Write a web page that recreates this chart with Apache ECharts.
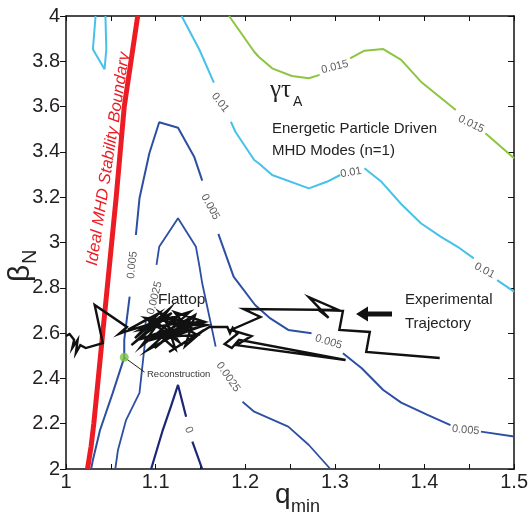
<!DOCTYPE html>
<html><head><meta charset="utf-8">
<script src="https://cdn.jsdelivr.net/npm/echarts@6/dist/echarts.min.js"></script>
<style>html,body{margin:0;padding:0;background:#fff}#c{width:531px;height:522px}</style>
</head><body><div id="c"></div>
<script>
// ---------- data ----------
const xMin = 1, xMax = 1.5, xStep = 0.1;
const yMin = 2, yMax = 4, yStep = 0.2;

// Ideal MHD stability boundary (q_min, beta_N)
const boundary = [[1.080,4.0],[1.065,3.6],[1.056,3.2],[1.051,3.0],[1.046,2.8],[1.041,2.6],[1.036,2.4],[1.031,2.2],[1.028,2.1],[1.024,2.0]];

// contour segments of gamma*tau_A (gaps = label positions)
const level0 = [
  [[1.095,2.0],[1.108,2.172],[1.117,2.275],[1.125,2.371],[1.134,2.231]],
  [[1.141,2.121],[1.152,2.0]]
];
const level0025 = [
  [[1.055,2.0],[1.058,2.084],[1.067,2.216],[1.082,2.336],[1.088,2.555],[1.089,2.658]],
  [[1.101,2.901],[1.104,2.981],[1.125,3.107],[1.145,2.981],[1.149,2.893],[1.152,2.820],[1.160,2.672],[1.167,2.540]],
  [[1.197,2.297],[1.210,2.253],[1.248,2.187],[1.271,2.106],[1.295,2.0]]
];
const level005 = [
  [[1.028,2.0],[1.030,2.040],[1.038,2.172],[1.052,2.334],[1.065,2.493],[1.065,2.570],[1.071,2.761]],
  [[1.078,3.033],[1.082,3.195],[1.093,3.394],[1.104,3.531],[1.125,3.507],[1.143,3.379],[1.152,3.273]],
  [[1.170,3.038],[1.187,2.849],[1.211,2.724],[1.228,2.665],[1.248,2.614],[1.274,2.599]],
  [[1.309,2.511],[1.330,2.445],[1.354,2.349],[1.374,2.293],[1.404,2.238],[1.429,2.194]],
  [[1.463,2.165],[1.500,2.143]]
];
const level01 = [
  [[1.033,4.0],[1.030,3.853],[1.043,3.765],[1.045,3.853],[1.044,4.0]],
  [[1.129,4.0],[1.149,3.850],[1.165,3.706]],
  [[1.184,3.533],[1.189,3.489],[1.210,3.364],[1.215,3.350],[1.230,3.298],[1.271,3.239],[1.291,3.268],[1.306,3.298]],
  [[1.333,3.328],[1.352,3.268],[1.374,3.170],[1.396,3.085],[1.418,3.026],[1.437,2.981],[1.455,2.930]],
  [[1.481,2.834],[1.500,2.783]]
];
const level015 = [
  [[1.182,4.0],[1.210,3.842],[1.215,3.820],[1.230,3.769],[1.252,3.735],[1.271,3.725],[1.283,3.740]],
  [[1.317,3.813],[1.333,3.847],[1.354,3.854],[1.374,3.806],[1.396,3.710],[1.435,3.585]],
  [[1.468,3.482],[1.500,3.372]]
];

// contour labels: [q_min, beta_N, text]
const contourLabels = [
  [1.172,3.618,'0.01'],[1.318,3.309,'0.01'],[1.467,2.876,'0.01'],
  [1.300,3.775,'0.015'],[1.452,3.523,'0.015'],
  [1.074,2.901,'0.005'],[1.161,3.157,'0.005'],[1.293,2.561,'0.005'],[1.446,2.172,'0.005'],
  [1.099,2.755,'0.0025'],[1.181,2.406,'0.0025'],
  [1.137,2.172,'0']
];
const contourLabelAngles = [-52,10,-28, 14,-26, 84,-61,-17,-5, 76,-55, -68];

// experimental trajectory
const trajectory = [
  [1.000,2.587],[1.004,2.596],[1.009,2.570],[1.007,2.534],[1.013,2.570],[1.011,2.512],[1.016,2.547],[1.022,2.534],
  [1.041,2.556],[1.032,2.724],[1.068,2.627],[1.059,2.596],
  [1.065,2.605],[1.102,2.649],[1.073,2.547],[1.118,2.689],[1.082,2.614],[1.132,2.649],[1.099,2.534],[1.141,2.667],
  [1.110,2.570],[1.152,2.631],[1.088,2.667],[1.126,2.561],[1.104,2.693],[1.146,2.592],[1.093,2.578],[1.135,2.623],
  [1.121,2.693],[1.155,2.649],[1.080,2.570],[1.113,2.614],
  [1.093,2.667],[1.069,2.614],[1.104,2.689],[1.077,2.578],[1.115,2.706],[1.084,2.543],[1.126,2.676],[1.093,2.640],
  [1.138,2.693],[1.091,2.525],[1.149,2.653],[1.104,2.592],[1.122,2.530],[1.111,2.667],[1.157,2.636],[1.095,2.570],
  [1.144,2.680],[1.133,2.543],[1.154,2.614],[1.115,2.517],[1.160,2.627],
  [1.180,2.627],[1.183,2.600],[1.186,2.623],[1.191,2.596],[1.177,2.552],[1.185,2.534],[1.193,2.570],[1.312,2.481],
  [1.190,2.547],[1.207,2.587],[1.184,2.614],[1.217,2.671],[1.198,2.706],[1.304,2.702],[1.271,2.759],[1.293,2.667],
  [1.282,2.702],[1.309,2.698],[1.305,2.614],[1.339,2.605],[1.335,2.517],[1.417,2.490]
];

// reconstruction point and its leader
const reconstruction = [[1.065,2.493]];
const reconstructionLeader = [[1.065,2.493],[1.0876,2.428]];

// ---------- styles ----------
const FONT = '"Liberation Sans", Arial, Helvetica, sans-serif';
const levelStyles = [
  {segs: level0,    color: '#1b2677', width: 2.2},
  {segs: level0025, color: '#2c4fa3', width: 1.8},
  {segs: level005,  color: '#2c4fa3', width: 2.0},
  {segs: level01,   color: '#45c1ea', width: 2.0},
  {segs: level015,  color: '#8cc63f', width: 2.0}
];

const series = [];
levelStyles.forEach(ls => {
  ls.segs.forEach(seg => {
    series.push({type:'line', data: seg, symbol:'none', silent:true, z:2,
      lineStyle:{color: ls.color, width: ls.width}});
  });
});
series.push({type:'line', data: boundary, symbol:'none', z:3, lineStyle:{color:'#ed1c24', width:5}});
series.push({type:'line', data: trajectory, symbol:'none', z:4, lineStyle:{color:'#111', width:2.4, join:'miter'}});
series.push({type:'line', data: reconstructionLeader, symbol:'none', z:4, lineStyle:{color:'#222', width:1}});
series.push({type:'scatter', data: reconstruction, symbolSize:9, z:5, itemStyle:{color:'#7cc242'}});
series.push({type:'scatter', symbolSize:0, z:5,
  data: contourLabels.map((d,i)=>({value:[d[0],d[1]], name:d[2], label:{rotate: contourLabelAngles[i]}})),
  label:{show:true, position:'inside', formatter: p => p.name, fontSize:11, color:'#333', fontFamily: FONT}
});

const axisLine = {show:true, onZero:false, lineStyle:{color:'#111', width:1.5}};
const fmt = v => String(Math.round(v*10)/10);

const option = {
  animation:false,
  backgroundColor:'#fff',
  grid:{left:66, top:16, width:451, height:453},
  xAxis:[
    {type:'value', min:xMin, max:xMax, interval:xStep, position:'bottom', axisLine,
     axisTick:{show:true, inside:true, length:5, lineStyle:{color:'#111', width:1}},
     minorTick:{show:true, splitNumber:2, length:5, lineStyle:{color:'#111', width:1}},
     splitLine:{show:false},
     axisLabel:{fontSize:20, color:'#231f20', margin:3, fontFamily:FONT, formatter: fmt}},
    {type:'value', min:xMin, max:xMax, interval:xStep, position:'top', axisLine,
     axisTick:{show:true, inside:true, length:5, lineStyle:{color:'#111', width:1}},
     minorTick:{show:true, splitNumber:2, length:5, lineStyle:{color:'#111', width:1}},
     splitLine:{show:false}, axisLabel:{show:false}}
  ],
  yAxis:[
    {type:'value', min:yMin, max:yMax, interval:yStep, position:'left', axisLine,
     axisTick:{show:true, inside:false, length:6, lineStyle:{color:'#111', width:1}},
     splitLine:{show:false},
     axisLabel:{fontSize:20, color:'#231f20', margin:6, fontFamily:FONT, formatter: fmt}},
    {type:'value', min:yMin, max:yMax, interval:yStep, position:'right', axisLine,
     axisTick:{show:true, inside:true, length:6, lineStyle:{color:'#111', width:1}},
     splitLine:{show:false}, axisLabel:{show:false}}
  ],
  series,
  graphic:[
    {type:'text', x:108.5, y:159, rotation: 81.3*Math.PI/180, z:10,
     style:{text:'Ideal MHD Stability Boundary', fill:'#ed1c24', font:'italic 16.5px ' + FONT, align:'center', verticalAlign:'middle'}},
    {type:'text', x:270, y:90, z:10, style:{text:'γτ', fill:'#222', font:'25px "Liberation Serif", "DejaVu Serif", serif', align:'left', verticalAlign:'middle'}},
    {type:'text', x:293, y:102.5, z:10, style:{text:'A', fill:'#222', font:'14px ' + FONT, align:'left', verticalAlign:'middle'}},
    {type:'text', x:272, y:129, z:10, style:{text:'Energetic Particle Driven', fill:'#222', font:'15px ' + FONT, align:'left', verticalAlign:'middle'}},
    {type:'text', x:272, y:150.5, z:10, style:{text:'MHD Modes (n=1)', fill:'#222', font:'15px ' + FONT, align:'left', verticalAlign:'middle'}},
    {type:'text', x:405, y:300, z:10, style:{text:'Experimental', fill:'#222', font:'15px ' + FONT, align:'left', verticalAlign:'middle'}},
    {type:'text', x:405, y:323.5, z:10, style:{text:'Trajectory', fill:'#222', font:'15px ' + FONT, align:'left', verticalAlign:'middle'}},
    {type:'text', x:158, y:300, z:10, style:{text:'Flattop', fill:'#222', font:'15.5px ' + FONT, align:'left', verticalAlign:'middle'}},
    {type:'text', x:147, y:374, z:10, style:{text:'Reconstruction', fill:'#333', font:'9.5px ' + FONT, align:'left', verticalAlign:'middle'}},
    {type:'polygon', z:10, shape:{points:[[356,314],[368,306.5],[368,311.5],[392,311.5],[392,316.5],[368,316.5],[368,321.5]]}, style:{fill:'#111'}},
    {type:'text', x:275, y:495.5, z:10, style:{text:'q', fill:'#222', font:'28px ' + FONT, align:'left', verticalAlign:'middle'}},
    {type:'text', x:291, y:507.5, z:10, style:{text:'min', fill:'#222', font:'18px ' + FONT, align:'left', verticalAlign:'middle'}},
    {type:'group', x:30, y:282, rotation: Math.PI/2, z:10, children:[
      {type:'text', x:0, y:-9, style:{text:'β', fill:'#222', font:'30px ' + FONT, align:'left', verticalAlign:'middle'}},
      {type:'text', x:18, y:0, style:{text:'N', fill:'#222', font:'20px ' + FONT, align:'left', verticalAlign:'middle'}}
    ]}
  ]
};
const chart = echarts.init(document.getElementById('c'), null, {renderer:'canvas'});
chart.setOption(option);
</script></body></html>
